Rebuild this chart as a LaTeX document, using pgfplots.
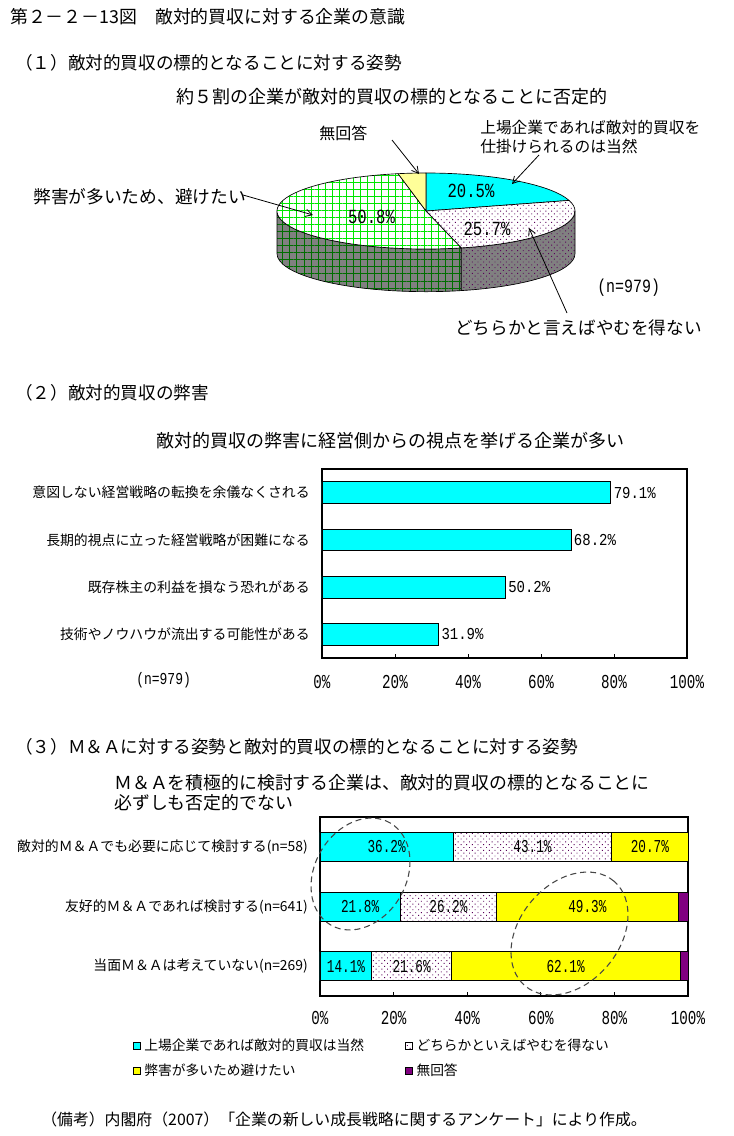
\documentclass[border=0pt]{standalone}
\usepackage{fontspec}
\usepackage{graphicx}
\usepackage{pgfplots}
\usepackage{pgfplotstable}
\pgfplotsset{compat=1.18}
\usetikzlibrary{patterns,patterns.meta,arrows.meta}
\setmainfont{Noto Sans CJK JP}
\newfontfamily\digits{Liberation Mono}
\newcommand\fs[1]{\fontsize{#1}{#1}\selectfont}
\newcommand\pienum[1]{\scalebox{0.78}[1]{\fs{15pt}\digits #1}}
\newcommand\vl[1]{\scalebox{0.84}[1]{\fs{12.5pt}\digits #1}}
\newcommand\tk[1]{\scalebox{0.72}[1]{\fs{14.8pt}\digits #1}}
\newcommand\sv[1]{\scalebox{0.70}[1]{\fs{13.6pt}\digits #1}}
\definecolor{xcyan}{RGB}{0,255,255}
\definecolor{xyel}{RGB}{255,255,0}
\definecolor{lyel}{RGB}{255,255,153}
\definecolor{xpur}{RGB}{128,0,128}
\definecolor{dpur}{RGB}{90,0,90}
\definecolor{xgreen}{RGB}{0,230,0}
\definecolor{dgreen}{RGB}{0,110,0}
\definecolor{xgray}{RGB}{128,128,128}
\definecolor{elc}{RGB}{70,70,70}
\pgfplotsset{sqleg/.style={legend image code/.code={\draw[##1] (0pt,-2.6pt) rectangle (5.25pt,2.6pt);}}}
% ---- data ----
\def\pA{20.5}\def\pB{25.7}\def\pC{50.8}\def\pD{3.0}
\pgfplotstableread{
i v
0 79.1
1 68.2
2 50.2
3 31.9
}\harm
\pgfplotstableread{
row a b c d
0 36.2 43.1 20.7 0
1 21.8 26.2 49.3 2.7
2 14.1 21.6 62.1 2.2
}\mna
% label positions: middle of each stacked segment
\pgfplotstablecreatecol[create col/expr={\thisrow{a}/2}]{ma}\mna
\pgfplotstablecreatecol[create col/expr={\thisrow{a}+\thisrow{b}/2}]{mb}\mna
\pgfplotstablecreatecol[create col/expr={\thisrow{a}+\thisrow{b}+\thisrow{c}/2}]{mc}\mna
\begin{document}
\begin{tikzpicture}[x=0.75pt,y=0.75pt]
\path[use as bounding box] (0,0) rectangle (734,-1136);
\fill[white] (0,0) rectangle (734,-1136);
% headings
\node[anchor=west,inner sep=0pt,font=\fs{13.4pt}] at (10,-17) {第２－２－13図　敵対的買収に対する企業の意識};
\node[anchor=west,inner sep=0pt,font=\fs{13.2pt}] at (15,-63) {（１）敵対的買収の標的となることに対する姿勢};
\node[anchor=west,inner sep=0pt,font=\fs{13.5pt}] at (176,-97) {約５割の企業が敵対的買収の標的となることに否定的};
\node[anchor=west,inner sep=0pt,font=\fs{13.2pt}] at (15,-393) {（２）敵対的買収の弊害};
\node[anchor=west,inner sep=0pt,font=\fs{13.5pt}] at (156,-441) {敵対的買収の弊害に経営側からの視点を挙げる企業が多い};
\node[anchor=west,inner sep=0pt,font=\fs{13.2pt}] at (15,-747) {（３）Ｍ＆Ａに対する姿勢と敵対的買収の標的となることに対する姿勢};
\node[anchor=west,inner sep=0pt,font=\fs{13.4pt}] at (114,-783) {Ｍ＆Ａを積極的に検討する企業は、敵対的買収の標的となることに};
\node[anchor=west,inner sep=0pt,font=\fs{13.4pt}] at (114,-803) {必ずしも否定的でない};
\node[anchor=west,inner sep=0pt,font=\fs{11.9pt}] at (41,-1119) {（備考）内閣府（2007）「企業の新しい成長戦略に関するアンケート」により作成。};
% ---- pie ----
\pgfmathsetmacro\aA{90-3.6*\pA}
\pgfmathsetmacro\aB{\aA-3.6*\pB}
\pgfmathsetmacro\aC{\aB-3.6*\pC}
\pgfmathsetmacro\eB{360+\aB}
\def\rx{111.75pt}\def\ry{28.5pt}\def\dd{1.1228}
\begin{axis}[at={(319.5pt,-158.25pt)}, anchor=center, width=223.5pt, height=57pt,
  scale only axis, hide axis, xmin=-1, xmax=1, ymin=-1, ymax=1, clip=false]
\addplot[draw=none] coordinates {(0,0)};
\draw[line width=0.5pt, preaction={fill=xgray}, preaction={pattern={Hatch[angle=0,distance=5.3pt,line width=0.55pt]}, pattern color=dgreen}]
  (axis cs:-1,0) arc[start angle=180,end angle=\eB,x radius=\rx,y radius=\ry]
  -- (axis cs:{cos(\eB)},{sin(\eB)-\dd}) arc[start angle=\eB,end angle=180,x radius=\rx,y radius=\ry] -- cycle;
\draw[line width=0.5pt, preaction={fill=xgray}, preaction={pattern={Dots[angle=45,distance=3pt,radius=0.5pt]}, pattern color=dpur}]
  (axis cs:{cos(\eB)},{sin(\eB)}) arc[start angle=\eB,end angle=360,x radius=\rx,y radius=\ry]
  -- (axis cs:1,-\dd) arc[start angle=360,end angle=\eB,x radius=\rx,y radius=\ry] -- cycle;
\draw[line width=0.5pt, fill=xcyan]
  (axis cs:0,0) -- (axis cs:0,1) arc[start angle=90,end angle=\aA,x radius=\rx,y radius=\ry] -- cycle;
\draw[line width=0.5pt, preaction={fill=white}, preaction={pattern={Dots[angle=45,distance=3pt,radius=0.5pt]}, pattern color=dpur}]
  (axis cs:0,0) -- (axis cs:{cos(\aA)},{sin(\aA)}) arc[start angle=\aA,end angle=\aB,x radius=\rx,y radius=\ry] -- cycle;
\draw[line width=0.5pt, preaction={fill=white}, preaction={pattern={Hatch[angle=0,distance=5.3pt,line width=0.55pt]}, pattern color=xgreen}]
  (axis cs:0,0) -- (axis cs:{cos(\aB)},{sin(\aB)}) arc[start angle=\aB,end angle=\aC,x radius=\rx,y radius=\ry] -- cycle;
\draw[line width=0.5pt, fill=lyel]
  (axis cs:0,0) -- (axis cs:{cos(\aC)},{sin(\aC)}) arc[start angle=\aC,end angle=-270,x radius=\rx,y radius=\ry] -- cycle;
\end{axis}
\node[inner sep=0pt] at (471,-191) {\pienum{\pA\%}};
\node[inner sep=0pt] at (487,-229) {\pienum{\pB\%}};
\node[inner sep=0pt] at (371.5,-217) {\pienum{\pC\%}};
\node[anchor=west,inner sep=0pt,font=\fs{12pt}] at (319,-133) {無回答};
\node[anchor=west,inner sep=0pt,font=\fs{11.8pt}] at (480,-128) {上場企業であれば敵対的買収を};
\node[anchor=west,inner sep=0pt,font=\fs{11.8pt}] at (480,-146) {仕掛けられるのは当然};
\node[anchor=west,inner sep=0pt,font=\fs{13.3pt}] at (33,-197) {弊害が多いため、避けたい};
\node[anchor=west,inner sep=0pt,font=\fs{13.2pt}] at (455,-328) {どちらかと言えばやむを得ない};
\node[anchor=west,inner sep=0pt] at (597,-288) {\scalebox{0.8}[1]{\fs{14pt}\digits (n=979)}};
\begin{scope}[line width=0.6pt, -{Straight Barb[length=5pt,width=5.5pt]}]
\draw (392,-140) -- (419,-174);
\draw (539,-155) -- (512,-184);
\draw (243,-195) -- (313,-215);
\draw (567,-313) -- (529,-228);
\end{scope}
% ---- chart 2 ----
\begin{axis}[
  at={(241.5pt,-351.75pt)}, anchor=north west,
  width=273.75pt, height=141.75pt, scale only axis,
  xbar, bar width=16.3pt, bar shift=0pt,
  xmin=0, xmax=100, ymin=-0.5, ymax=3.5, y dir=reverse,
  xtick={0,20,40,60,80,100},
  xticklabels={\tk{0\%},\tk{20\%},\tk{40\%},\tk{60\%},\tk{80\%},\tk{100\%}},
  xticklabel style={anchor=center, yshift=-18pt, inner sep=0pt},
  ytick={0,1,2,3},
  yticklabels={{意図しない経営戦略の転換を余儀なくされる},{長期的視点に立った経営戦略が困難になる},{既存株主の利益を損なう恐れがある},{技術やノウハウが流出する可能性がある}},
  yticklabel style={font=\fs{10.4pt}, anchor=east, inner sep=0pt, xshift=-9pt},
  ytick style={draw=none},
  tick pos=left, tick align=inside, major tick length=3pt,
  xtick style={black, line width=0.6pt},
  axis line style={line width=1.5pt},
  nodes near coords={\vl{\pgfplotspointmeta\%}},
  point meta=explicit symbolic,
  every node near coord/.append style={anchor=west, inner sep=2pt},
  clip=false,
]
\addplot[fill=xcyan, draw=black, line width=0.6pt] table[x=v, y=i, meta=v]{\harm};
\end{axis}
\node[anchor=west,inner sep=0pt] at (136,-680) {\scalebox{0.78}[1]{\fs{12.5pt}\digits (n=979)}};
% ---- chart 3 ----
\begin{axis}[
  at={(240pt,-612.75pt)}, anchor=north west,
  width=276pt, height=134.25pt, scale only axis,
  xbar stacked, bar width=21.75pt,
  xmin=0, xmax=100, ymin=-0.5, ymax=2.5, y dir=reverse,
  xtick={0,20,40,60,80,100},
  xticklabels={\tk{0\%},\tk{20\%},\tk{40\%},\tk{60\%},\tk{80\%},\tk{100\%}},
  xticklabel style={anchor=center, yshift=-16.5pt, inner sep=0pt},
  ytick={0,1,2},
  yticklabels={{敵対的Ｍ＆Ａでも必要に応じて検討する(n=58)},{友好的Ｍ＆Ａであれば検討する(n=641)},{当面Ｍ＆Ａは考えていない(n=269)}},
  yticklabel style={font=\fs{10.4pt}, anchor=east, inner sep=0pt, xshift=-9pt},
  ytick style={draw=none},
  tick pos=left, tick align=inside, major tick length=3pt,
  xtick style={black, line width=0.6pt},
  axis line style={line width=1.5pt},
  legend columns=2,
  legend style={at={(-0.508,-0.232)}, anchor=north west, draw=none, fill=none, inner sep=0pt,
    font=\fs{10.3pt},
    /tikz/every even column/.append style={column sep=30pt},
    /tikz/every odd column/.append style={column sep=1.5pt},
    row sep=6.5pt, nodes={inner sep=1pt}},
  legend cell align=left,
  clip=false,
]
\addplot[sqleg, fill=xcyan, draw=black, line width=0.6pt] table[x=a, y=row]{\mna};
\addlegendentry{上場企業であれば敵対的買収は当然}
\addplot[sqleg, fill=white, draw=black, line width=0.6pt, postaction={pattern={Dots[angle=45,distance=3pt,radius=0.5pt]}, pattern color=dpur}] table[x=b, y=row]{\mna};
\addlegendentry{どちらかといえばやむを得ない}
\addplot[sqleg, fill=xyel, draw=black, line width=0.6pt] table[x=c, y=row]{\mna};
\addlegendentry{弊害が多いため避けたい}
\addplot[sqleg, fill=xpur, draw=black, line width=0.6pt] table[x=d, y=row]{\mna};
\addlegendentry{無回答}
\end{axis}
% segment labels (same geometry as chart 3)
\begin{axis}[
  at={(240pt,-612.75pt)}, anchor=north west,
  width=276pt, height=134.25pt, scale only axis, hide axis,
  xmin=0, xmax=100, ymin=-0.5, ymax=2.5, y dir=reverse, clip=false,
  nodes near coords={\sv{\pgfplotspointmeta\%}},
  point meta=explicit symbolic,
  every node near coord/.append style={anchor=center, inner sep=0pt},
]
\addplot[draw=none, mark=none] table[x=ma, y=row, meta=a]{\mna};
\addplot[draw=none, mark=none] table[x=mb, y=row, meta=b]{\mna};
\addplot[draw=none, mark=none] table[x=mc, y=row, meta=c]{\mna};
\end{axis}
% dashed ellipses
\begin{scope}[elc, line width=0.8pt, dash pattern=on 4.5pt off 3pt]
\draw[rotate around={59.6:(360.5,-874)}] (360.5,-874) ellipse [x radius=44.3pt, y radius=34.3pt];
\draw[rotate around={49.6:(569.5,-933.5)}] (569.5,-933.5) ellipse [x radius=51.5pt, y radius=37.4pt];
\end{scope}
\end{tikzpicture}
\end{document}
